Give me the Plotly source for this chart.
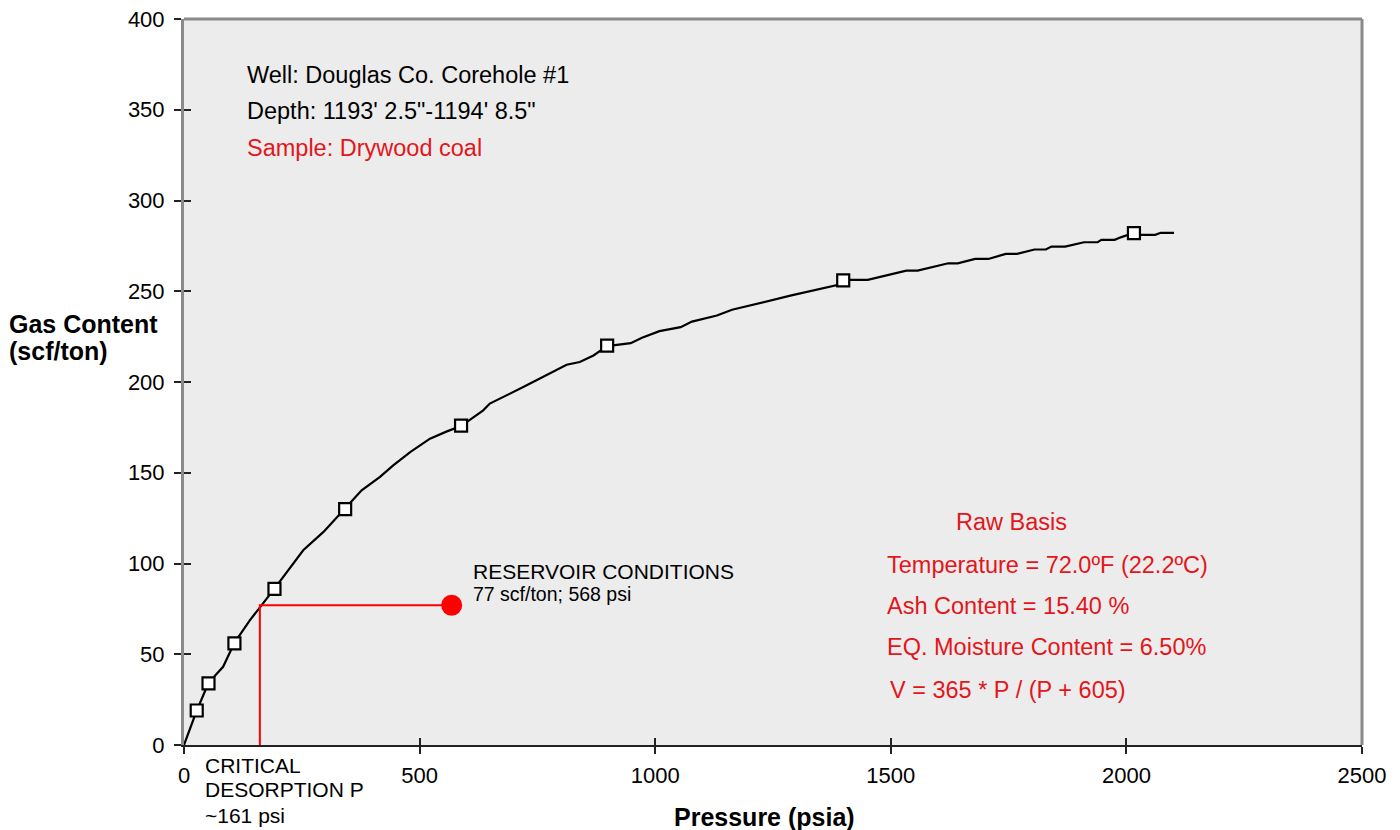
import plotly.graph_objects as go

# Measured isotherm points (psia, scf/ton)
meas_pressure = [27, 52, 107, 192, 342, 588, 898, 1399, 2016]
meas_gas = [19, 34, 56, 86, 130, 176, 220, 256, 282]

# Fitted isotherm trace (psia, scf/ton)
curve_pressure = [0, 27, 52, 83, 107, 140, 192, 239, 253, 296, 342, 377, 416, 444,
                  480, 522, 558, 588, 635, 649, 720, 770, 812, 840, 869, 898, 948,
                  972, 1009, 1054, 1078, 1131, 1163, 1289, 1391, 1399, 1451, 1533,
                  1557, 1622, 1642, 1679, 1707, 1744, 1768, 1805, 1829, 1841, 1870,
                  1910, 1939, 1947, 1975, 1988, 2016, 2029, 2061, 2073, 2101]
curve_gas = [0, 18.9, 34.3, 43.1, 56.3, 68.8, 86.2, 102.8, 107.3, 117.4, 130.3,
             140.3, 147.7, 154.1, 161.4, 168.8, 172.8, 175.7, 184.4, 188.1, 197.2,
             204.0, 209.5, 211.0, 214.6, 219.8, 221.4, 224.4, 228.0, 230.2, 233.3,
             236.6, 239.8, 247.7, 253.7, 256.3, 256.3, 261.4, 261.4, 265.4, 265.4,
             267.8, 267.8, 270.6, 270.6, 273.0, 273.0, 274.6, 274.6, 277.0, 277.0,
             278.3, 278.3, 279.7, 282.2, 281.1, 281.1, 282.2, 282.2]

# Reservoir point and critical desorption pressure
reservoir_pressure = 568
reservoir_gas = 77
critical_pressure = 161

x_ticks = [0, 500, 1000, 1500, 2000, 2500]
y_ticks = [0, 50, 100, 150, 200, 250, 300, 350, 400]

FONT = "Liberation Sans, Arial, Helvetica, sans-serif"
RED_TEXT = "#e3161b"
RED = "#ff0000"

fig = go.Figure()

fig.add_trace(go.Scatter(
    x=curve_pressure, y=curve_gas, mode="lines",
    line=dict(color="black", width=2.2), hoverinfo="skip", showlegend=False))

fig.add_trace(go.Scatter(
    x=[critical_pressure, critical_pressure, reservoir_pressure],
    y=[0, reservoir_gas, reservoir_gas], mode="lines",
    line=dict(color=RED, width=2), showlegend=False))

fig.add_trace(go.Scatter(
    x=meas_pressure, y=meas_gas, mode="markers",
    marker=dict(symbol="square", size=12, color="white",
                line=dict(color="black", width=2.2)),
    showlegend=False))

fig.add_trace(go.Scatter(
    x=[reservoir_pressure], y=[reservoir_gas], mode="markers",
    marker=dict(symbol="circle", size=21, color=RED), showlegend=False))

# invisible trace to attach the inner-tick axes
fig.add_trace(go.Scatter(x=[0], y=[0], xaxis="x2", yaxis="y2", mode="markers",
                         marker=dict(opacity=0), hoverinfo="skip", showlegend=False))

tick_font = dict(family=FONT, size=22, color="black")

fig.update_layout(
    width=1400, height=830,
    margin=dict(l=184, r=38, t=19, b=85, autoexpand=False),
    paper_bgcolor="white", plot_bgcolor="#ececec",
    font=dict(family=FONT, color="black"),
    xaxis=dict(range=[0, 2500], tickvals=x_ticks, ticktext=[str(v) for v in x_ticks],
               showgrid=False, zeroline=False, showline=True, linecolor="#222222",
               linewidth=2, ticks="outside", ticklen=7, tickwidth=1.5, automargin=False,
               tickcolor="#222222", tickfont=tick_font, ticklabelstandoff=3),
    yaxis=dict(range=[0, 400], tickvals=y_ticks, ticktext=[str(v) for v in y_ticks],
               showgrid=False, zeroline=False, showline=True, linecolor="#8a8a8a",
               linewidth=3, ticks="outside", ticklen=7, tickwidth=1.5, automargin=False,
               tickcolor="#222222", tickfont=tick_font, ticklabelstandoff=5),
    xaxis2=dict(range=[0, 2500], tickvals=x_ticks, overlaying="x", side="bottom",
                showgrid=False, zeroline=False, showline=False, ticks="inside",
                automargin=False,
                ticklen=7, tickwidth=1.5, tickcolor="#222222", showticklabels=False),
    yaxis2=dict(range=[0, 400], tickvals=y_ticks, overlaying="y", side="left",
                showgrid=False, zeroline=False, showline=False, ticks="inside",
                automargin=False,
                ticklen=7, tickwidth=1.5, tickcolor="#222222", showticklabels=False),
    shapes=[
        dict(type="line", xref="paper", yref="paper", x0=0, x1=1.0, y0=1, y1=1,
             line=dict(color="#8a8a8a", width=3)),
        dict(type="line", xref="paper", yref="paper", x0=1, x1=1, y0=0, y1=1,
             line=dict(color="#8a8a8a", width=3)),
    ],
)

annotations = [
    dict(x=129, y=369, text="Well: Douglas Co. Corehole #1", color="black", size=23.5, anchor="left"),
    dict(x=129, y=349.5, text="Depth: 1193' 2.5\"-1194' 8.5\"", color="black", size=23.5, anchor="left"),
    dict(x=129, y=329, text="Sample: Drywood coal", color=RED_TEXT, size=23.5, anchor="left"),
    dict(x=1757, y=122.7, text="Raw Basis", color=RED_TEXT, size=23.5, anchor="center"),
    dict(x=1488, y=99.1, text="Temperature = 72.0ºF (22.2ºC)", color=RED_TEXT, size=23.5, anchor="left"),
    dict(x=1488, y=76.5, text="Ash Content = 15.40 %", color=RED_TEXT, size=23.5, anchor="left"),
    dict(x=1488, y=53.9, text="EQ. Moisture Content = 6.50%", color=RED_TEXT, size=23.5, anchor="left"),
    dict(x=1494, y=30.3, text="V = 365 * P / (P + 605)", color=RED_TEXT, size=23.5, anchor="left"),
    dict(x=609, y=95.8, text="RESERVOIR CONDITIONS", color="black", size=21, anchor="left"),
    dict(x=609, y=83.1, text=f"{reservoir_gas} scf/ton; {reservoir_pressure} psi", color="black", size=19.5, anchor="left"),
]
for a in annotations:
    fig.add_annotation(x=a["x"], y=a["y"], xref="x", yref="y", text=a["text"],
                       showarrow=False, xanchor=a["anchor"], yanchor="middle",
                       font=dict(family=FONT, size=a["size"], color=a["color"]))

# Critical desorption label below the axis, one line per annotation
PLOT_W, PLOT_H = 1178, 726
for text, py in [("CRITICAL", 765), ("DESORPTION P", 790), (f"~{critical_pressure} psi", 815)]:
    fig.add_annotation(x=(203 - 184) / PLOT_W, y=-(py - 745) / PLOT_H,
                       xref="paper", yref="paper", text=text, showarrow=False,
                       xanchor="left", yanchor="middle",
                       font=dict(family=FONT, size=21, color="black"))

# Axis titles
fig.add_annotation(x=(764 - 184) / PLOT_W, y=-(817 - 745) / PLOT_H, xref="paper", yref="paper",
                   text="<b>Pressure (psia)</b>", showarrow=False,
                   xanchor="center", yanchor="middle",
                   font=dict(family=FONT, size=25, color="black"))
for text, py in [("<b>Gas Content</b>", 324), ("<b>(scf/ton)</b>", 351)]:
    fig.add_annotation(x=-177 / PLOT_W, y=(745 - py) / PLOT_H, xref="paper", yref="paper",
                       text=text, showarrow=False, xanchor="left", yanchor="middle",
                       font=dict(family=FONT, size=25, color="black"))

fig.write_html("out.html")
